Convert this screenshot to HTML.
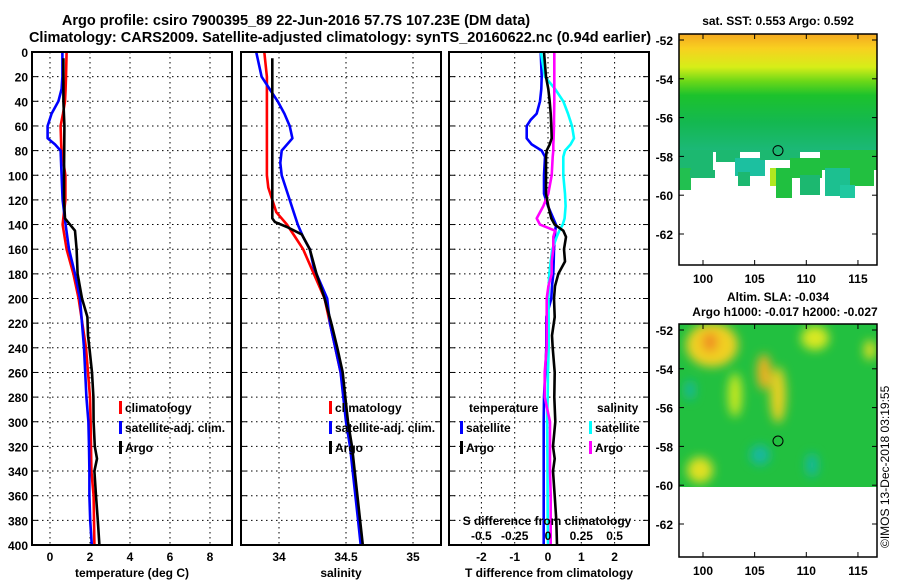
<!DOCTYPE html>
<html><head><meta charset="utf-8"><style>
html,body{margin:0;padding:0;background:#fff;}
svg{display:block;font-family:"Liberation Sans",sans-serif;font-weight:bold;}
</style></head><body>
<svg id="fig" width="900" height="580" viewBox="0 0 900 580">
<defs>
<linearGradient id="sstg" x1="0" y1="0" x2="0" y2="1">
<stop offset="0" stop-color="#f4a820"/><stop offset="0.12" stop-color="#f8d020"/><stop offset="0.28" stop-color="#d6ee18"/>
<stop offset="0.4" stop-color="#6cd818"/><stop offset="0.52" stop-color="#1cc22c"/><stop offset="0.75" stop-color="#14b850"/><stop offset="1" stop-color="#1cb87a"/>
</linearGradient>
<filter id="blur"><feGaussianBlur stdDeviation="5"/></filter>
<clipPath id="m2clip"><rect x="679" y="324" width="198" height="163"/></clipPath>
</defs>
<text x="296" y="25" text-anchor="middle" font-size="14.5">Argo profile: csiro 7900395_89 22-Jun-2016 57.7S 107.23E (DM data)</text>
<text x="340" y="42" text-anchor="middle" font-size="14.5">Climatology: CARS2009. Satellite-adjusted climatology: synTS_20160622.nc (0.94d earlier)</text>
<g id="panels"></g>
<g id="maps">
<text x="778" y="25" text-anchor="middle" font-size="12">sat. SST: 0.553 Argo: 0.592</text>
<rect x="679" y="34" width="198" height="118" fill="url(#sstg)"/>
<g fill="#1cb870">
<rect x="679" y="150" width="34" height="20"/><rect x="679" y="168" width="12" height="22" fill="#22c050"/><rect x="690" y="170" width="25" height="8"/>
<rect x="716" y="150" width="24" height="12"/><rect x="735" y="158" width="30" height="18" fill="#1cc0a0"/><rect x="738" y="172" width="12" height="14"/>
<rect x="760" y="150" width="40" height="10"/><rect x="770" y="168" width="6" height="18" fill="#b0e820"/><rect x="776" y="168" width="16" height="30" fill="#20c040"/>
<rect x="790" y="158" width="32" height="20" fill="#20c040"/><rect x="800" y="175" width="20" height="20"/><rect x="820" y="150" width="57" height="20" fill="#22c040"/>
<rect x="825" y="168" width="25" height="28" fill="#1cc090"/><rect x="850" y="168" width="24" height="18" fill="#22c040"/><rect x="840" y="185" width="15" height="13" fill="#20c8a0"/>
</g>
<rect x="679" y="34" width="198" height="231" fill="none" stroke="#000" stroke-width="1.5"/>
<circle cx="778" cy="150.6" r="5" fill="none" stroke="#000" stroke-width="1"/>
<text x="778" y="301" text-anchor="middle" font-size="12">Altim. SLA: -0.034</text>
<text x="785" y="316" text-anchor="middle" font-size="12">Argo h1000: -0.017 h2000: -0.027</text>
<g clip-path="url(#m2clip)">
<rect x="679" y="324" width="198" height="163" fill="#22c040"/>
<g filter="url(#blur)">
<ellipse cx="712" cy="345" rx="26" ry="22" fill="#f0d020"/><ellipse cx="710" cy="342" rx="8" ry="10" fill="#f09020"/>
<ellipse cx="764" cy="372" rx="7" ry="18" fill="#f0b020"/><ellipse cx="778" cy="395" rx="8" ry="28" fill="#e8d020"/>
<ellipse cx="815" cy="338" rx="14" ry="12" fill="#d8e820"/><ellipse cx="700" cy="470" rx="13" ry="13" fill="#e0e020"/>
<ellipse cx="735" cy="395" rx="7" ry="22" fill="#c8e820"/><ellipse cx="870" cy="350" rx="6" ry="10" fill="#e0e020"/>
<ellipse cx="690" cy="390" rx="5" ry="10" fill="#18b8a0"/><ellipse cx="760" cy="455" rx="10" ry="10" fill="#18b8a0"/><ellipse cx="812" cy="465" rx="6" ry="12" fill="#18b8a0"/>
</g></g>
<rect x="679" y="324" width="198" height="233" fill="none" stroke="#000" stroke-width="1.5"/>
<circle cx="778" cy="441" r="5" fill="none" stroke="#000" stroke-width="1"/>
<g id="maplabels" font-size="12"></g>
<text transform="translate(889,548) rotate(-90)" font-size="12" font-weight="normal">©IMOS 13-Dec-2018 03:19:55</text>
</g>
</svg>
<script>
// depth grids
const depthsA = [0,20,30,40,50,60,70,75,80,100,120,140,160,180,200,240,280,300,320,340,360,380,400];
const tempClim = [0.83,0.8,0.78,0.75,0.65,0.53,0.55,0.56,0.58,0.77,0.77,0.63,0.83,1.17,1.43,1.8,2.0,2.03,2.05,2.07,2.18,2.2,2.22];
const tempSat  = [0.62,0.62,0.58,0.42,0.08,-0.12,-0.12,0.25,0.53,0.58,0.63,0.78,0.95,1.25,1.5,1.7,1.82,1.92,1.95,1.97,1.97,2.01,2.09];
const depthsArgo = [5,40,60,100,120,135,140,145,160,180,200,215,230,240,260,280,300,320,330,340,360,380,400];
const tempArgo = [0.67,0.67,0.72,0.7,0.7,0.75,1.0,1.25,1.33,1.38,1.6,1.87,1.9,1.97,2.1,2.17,2.18,2.24,2.35,2.22,2.3,2.39,2.47];
const depthsS = [0,20,30,40,50,60,70,80,90,100,110,120,130,140,150,160,175,200,220,240,260,280,300,320,340,360,380,400];
const salClim = [33.89,33.91,33.91,33.91,33.91,33.91,33.91,33.91,33.91,33.91,33.92,33.95,33.98,34.06,34.12,34.18,34.24,34.34,34.38,34.42,34.46,34.49,34.505,34.535,34.555,34.575,34.595,34.615];
const salSat  = [33.83,33.87,33.93,33.99,34.04,34.08,34.1,34.02,34.01,34.02,34.05,34.08,34.11,34.14,34.18,34.23,34.26,34.36,34.38,34.42,34.46,34.48,34.5,34.53,34.55,34.57,34.59,34.61];
const depthsSA = [5,135,138,142,148,160,180,200,220,240,260,280,300,320,340,360,380,400];
const salArgo = [33.95,33.95,33.97,34.06,34.17,34.23,34.28,34.34,34.39,34.435,34.475,34.495,34.515,34.545,34.565,34.585,34.605,34.625];
const depthsD = [0,20,30,40,50,55,60,70,75,80,85,100,115,125,135,140,145,150,160,170,180,190,200,215,230,240,260,280,300,320,330,340,360,380,400];
const dTSat = [-0.22,-0.19,-0.2,-0.24,-0.34,-0.52,-0.64,-0.64,-0.49,-0.19,-0.09,-0.12,-0.12,0,0.16,0.24,0.22,0.2,0.18,0.17,0.16,0.12,0.1,-0.05,-0.05,-0.05,-0.08,-0.12,-0.13,-0.13,-0.13,-0.13,-0.13,-0.13,-0.13];
const dTArgo = [-0.12,-0.06,0.01,0.05,0.08,0.09,0.1,0.11,0.05,-0.04,-0.06,-0.06,-0.06,0.01,0.1,0.2,0.46,0.54,0.48,0.51,0.31,0.21,0.18,0.2,0.12,0.14,0.2,0.19,0.22,0.15,0.2,0.15,0.2,0.25,0.27];
const dSSat = [-0.053,-0.023,0.053,0.115,0.15,0.165,0.18,0.195,0.17,0.128,0.115,0.115,0.128,0.132,0.125,0.11,0.085,0.065,0.032,0.02,0.01,0.005,0.003,0.005,0.005,0.005,0.0,-0.002,-0.007,-0.005,-0.004,-0.004,-0.003,-0.002,0.0];
const dSArgo = [0.047,0.047,0.047,0.047,0.046,0.045,0.045,0.042,0.04,0.04,0.035,0.028,0.002,-0.035,-0.085,-0.06,0.053,0.04,0.04,0.028,0.028,0.003,-0.01,-0.01,-0.01,-0.01,-0.025,-0.025,0.015,0.015,0.015,0.015,0.02,0.02,0.02];
const depthTicks = [0,20,40,60,80,100,120,140,160,180,200,220,240,260,280,300,320,340,360,380,400];
const tempTicks = [0,2,4,6,8];
const salTicks = [34,34.5,35];
const dTTicks = [-2,-1,0,1,2];
const dSTickLabels = ['-0.5','-0.25','0','0.25','0.5'];
const dSTicks = [-0.5,-0.25,0,0.25,0.5];
const sstLatTicks = [-52,-54,-56,-58,-60,-62];
const lonTicks = [100,105,110,115];

const NS='http://www.w3.org/2000/svg';
const top0=52, bot=545;
const Y = d => top0 + d*(bot-top0)/400;
function mk(tag, attrs, parent, text){const e=document.createElementNS(NS,tag);for(const k in attrs)e.setAttribute(k,attrs[k]);if(text!==undefined)e.textContent=text;parent.appendChild(e);return e;}
const panelsG=document.getElementById('panels');
function panel(name,x0,x1,X,ticks,tickLabels,xlabel,showDepth){
  const g=mk('g',{},panelsG);
  
  
  for(const t of ticks){const gl=mk('line',{x1:X(t),x2:X(t),y1:top0,y2:bot,stroke:'#000','stroke-width':1,'stroke-dasharray':'1.5,3.5'},g);
    }
  for(const d of depthTicks){if(d===0||d===400)continue;const gl=mk('line',{x1:x0,x2:x1,y1:Y(d),y2:Y(d),stroke:'#000','stroke-width':1,'stroke-dasharray':'1.5,3.5'},g);
    
    mk('line',{x1:x0,x2:x0+6,y1:Y(d),y2:Y(d),stroke:'#000'},g);mk('line',{x1:x1-6,x2:x1,y1:Y(d),y2:Y(d),stroke:'#000'},g);}
  ticks.forEach((t,i)=>{const tl=mk('text',{x:X(t),y:561,'text-anchor':'middle','font-size':12},g,tickLabels[i]);
    });
  const xl=mk('text',{x:(x0+x1)/2,y:577,'text-anchor':'middle','font-size':12},g,xlabel);
  
  if(showDepth){for(const d of depthTicks){const tl=mk('text',{x:28,y:Y(d)+5,'text-anchor':'end','font-size':12},g,String(d));
    }}
  return g;
}
function line(g,depths,vals,X,color,name,w){
  const pts=depths.map((d,i)=>X(vals[i]).toFixed(1)+','+Y(d).toFixed(1)).join(' ');
  const p=mk('polyline',{points:pts,fill:'none',stroke:color,'stroke-width':w||2.6,'stroke-linejoin':'round'},g);
  
  
}
function frame(g,x0,x1){const f=mk('rect',{x:x0,y:top0,width:x1-x0,height:bot-top0,fill:'none',stroke:'#000','stroke-width':2},g);
  }
function legend(g,x,y,color,label){const gg=mk('g',{},g);
  
  mk('rect',{x:x,y:y-11,width:3,height:13,fill:color},gg);mk('text',{x:x+6,y:y,'font-size':12},gg,label);}

const XT=t=>50+t*20;
const g1=panel('temperature-panel',32,232,XT,tempTicks,tempTicks.map(String),'temperature (deg C)',true);
line(g1,depthsA,tempClim,XT,'#f00','temp-climatology-line');
line(g1,depthsA,tempSat,XT,'#00f','temp-satellite-line');
line(g1,depthsArgo,tempArgo,XT,'#000','temp-argo-line');
frame(g1,32,232);
legend(g1,119,412,'#f00','climatology');legend(g1,119,432,'#00f','satellite-adj. clim.');legend(g1,119,452,'#000','Argo');
const XS=s=>279+(s-34)*134;
const g2=panel('salinity-panel',241,441,XS,salTicks,salTicks.map(String),'salinity',false);
line(g2,depthsS,salClim,XS,'#f00','sal-climatology-line');
line(g2,depthsS,salSat,XS,'#00f','sal-satellite-line');
line(g2,depthsSA,salArgo,XS,'#000','sal-argo-line');
frame(g2,241,441);
legend(g2,329,412,'#f00','climatology');legend(g2,329,432,'#00f','satellite-adj. clim.');legend(g2,329,452,'#000','Argo');
const XD=t=>548+t*33.3;
const XDS=s=>548+s*133.2;
const g3=panel('difference-panel',449,649,XD,dTTicks,dTTicks.map(String),'T difference from climatology',false);
line(g3,depthsD,dTSat,XD,'#00f','dT-satellite-line');
line(g3,depthsD,dSSat,XDS,'#0ff','dS-satellite-line');
line(g3,depthsD,dSArgo,XDS,'#f0f','dS-argo-line');
line(g3,depthsD,dTArgo,XD,'#000','dT-argo-line');
frame(g3,449,649);
let h=mk('text',{x:469,y:412,'font-size':12},g3,'temperature');
h=mk('text',{x:597,y:412,'font-size':12},g3,'salinity');
legend(g3,460,432,'#00f','satellite');legend(g3,460,452,'#000','Argo');
legend(g3,589,432,'#0ff','satellite');legend(g3,589,452,'#f0f','Argo');
h=mk('text',{x:547,y:525,'text-anchor':'middle','font-size':12},g3,'S difference from climatology');
dSTicks.forEach((s,i)=>{const t=mk('text',{x:XDS(s),y:540,'text-anchor':'middle','font-size':12},g3,dSTickLabels[i]);
  });

const ml=document.getElementById('maplabels');
const LX=l=>703+(l-100)*10.33;
function mapAxes(y0,yb,lat52){
  for(const la of sstLatTicks){const y=lat52+(-52-la)*19.4;
    const t=mk('text',{x:673,y:y+5,'text-anchor':'end','font-size':12},ml,String(la));
    
    mk('line',{x1:877,x2:872,y1:y,y2:y,stroke:'#000'},ml);mk('line',{x1:679,x2:684,y1:y,y2:y,stroke:'#000'},ml);}
  for(const lo of lonTicks){const t=mk('text',{x:LX(lo),y:yb+18,'text-anchor':'middle','font-size':12},ml,String(lo));
    
    mk('line',{x1:LX(lo),x2:LX(lo),y1:yb,y2:yb-5,stroke:'#000'},ml);mk('line',{x1:LX(lo),x2:LX(lo),y1:y0,y2:y0+5,stroke:'#000'},ml);}
}
mapAxes(34,265,40);
mapAxes(324,557,330);
</script>
</body></html>
